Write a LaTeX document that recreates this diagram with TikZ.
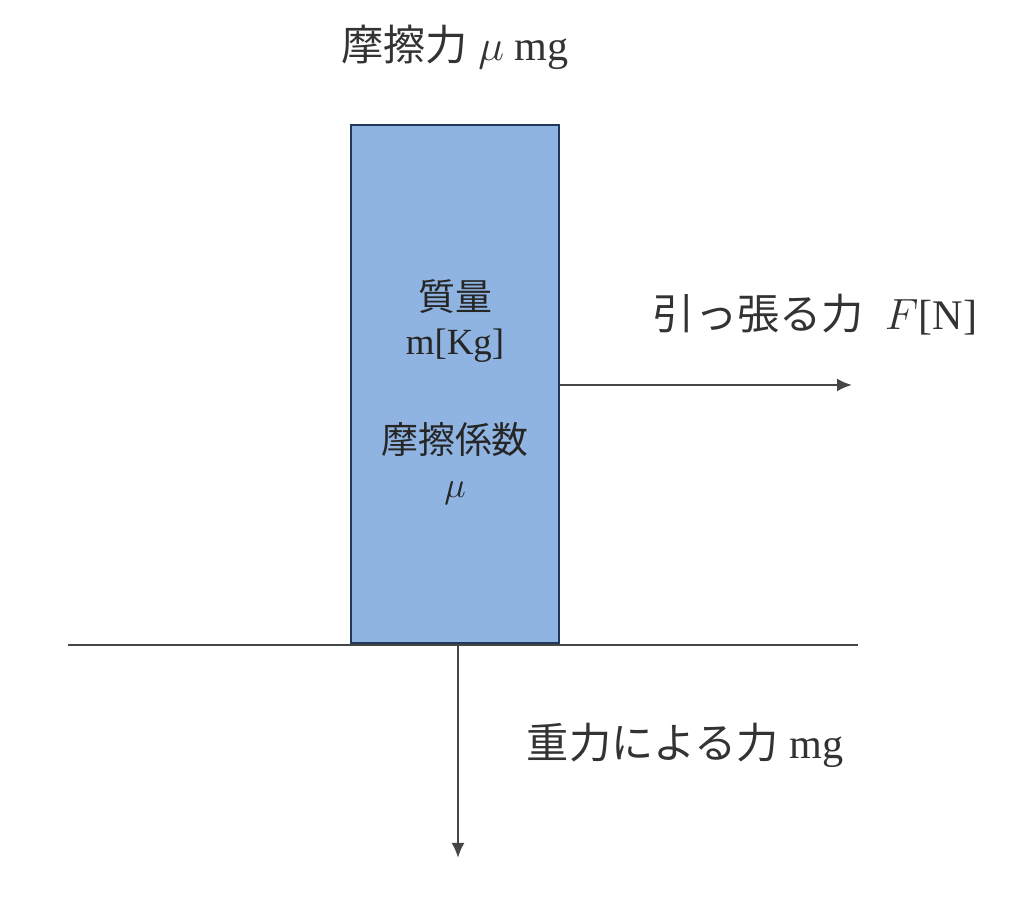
\documentclass[tikz,border=0pt]{standalone}
\usepackage{fontspec}
\usepackage{amsmath}
\usepackage{xcolor}
\setmainfont{Liberation Serif}
\newfontfamily\jp{Noto Sans CJK JP}
\usetikzlibrary{arrows.meta, positioning, calc}
\definecolor{blockfill}{RGB}{143,180,226}
\definecolor{blockdraw}{RGB}{35,55,90}
\definecolor{linegray}{RGB}{70,70,70}
\tikzstyle{massblock} = [rectangle, minimum width=4.16cm, minimum height=10.36cm, inner sep=0pt, draw=blockdraw, line width=1.5pt, fill=blockfill]
\tikzstyle{blocktext} = [align=center, font=\fontsize{21}{25}\selectfont, text=black!85]
\tikzstyle{forcelabel} = [font=\fontsize{24}{28}\selectfont, text=black!80, inner sep=0pt]
\tikzstyle{arrow} = [line width=1.3pt, draw=linegray, -{Latex[length=3mm,width=2.6mm]}]

\begin{document}
\begin{tikzpicture}[node distance=2cm]
    \useasboundingbox (0,0) rectangle (20.48,18.22);

    % Blocco e piano
    \node (block) [massblock] at (9.10,10.54) {};
    \draw [line width=1.3pt, draw=linegray] (1.36,5.32) coordinate (floorL) -- (17.16,5.32) coordinate (floorR);
    \coordinate (weightstart) at (9.16,5.32);

    % Testo nel blocco
    \node (mass) [blocktext] at (9.10,11.80) {{\jp 質量}\\m[Kg]};
    \node (coeff) [blocktext, below=0.95cm of mass] {{\jp 摩擦係数}\\$\mu$};

    % Frecce delle forze
    \coordinate (pullend) at (17.04,10.52);
    \coordinate (weightend) at (9.16,1.06);
    \draw [arrow] (block.east |- pullend) -- (pullend);
    \draw [arrow] (weightstart) -- (weightend);

    % Etichette
    \node (friction) [forcelabel] at (9.10,17.28) {{\jp 摩擦力} $\mu$ mg};
    \node (pull) [forcelabel] at (16.3,11.92) {{\jp 引っ張る力}\ \ $F$[N]};
    \node (gravity) [forcelabel] at (13.7,3.32) {{\jp 重力による力} mg};

\end{tikzpicture}
\end{document}
